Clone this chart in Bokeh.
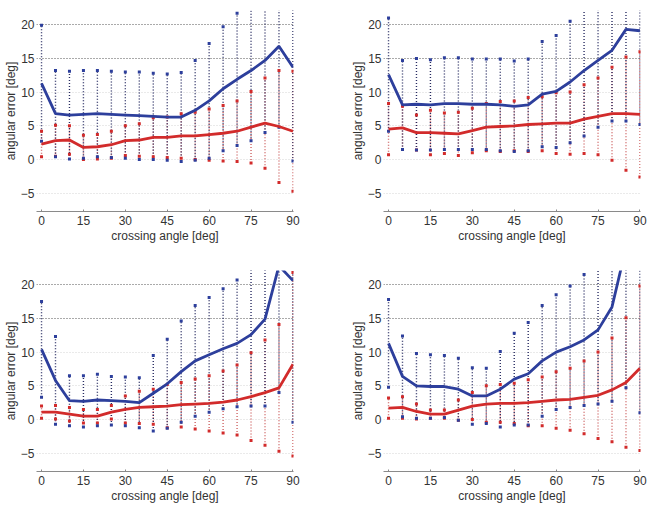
import numpy as np
from bokeh.plotting import figure
from bokeh.layouts import gridplot
from bokeh.models import FixedTicker, Grid, Range1d
from bokeh.embed import file_html
from bokeh.resources import INLINE

# crossing angle [deg]
angles = [0, 5, 10, 15, 20, 25, 30, 35, 40, 45, 50, 55, 60, 65, 70, 75, 80, 85, 90]
x_ticks = [0, 15, 30, 45, 60, 75, 90]
y_ticks = [-5, 0, 5, 10, 15, 20]
grid_dark = [15, 20]
grid_light = [-5, 0, 5, 10]

# panel 1 (top left)
blue_mean1 = [11.3, 6.8, 6.6, 6.7, 6.8, 6.7, 6.6, 6.5, 6.4, 6.3, 6.3, 7.3, 8.7, 10.5, 11.9, 13.2, 14.7, 16.8, 13.7]
blue_sd1 = [8.6, 6.4, 6.5, 6.5, 6.4, 6.4, 6.4, 6.5, 6.4, 6.4, 6.6, 7.4, 8.5, 9.2, 9.8, 10.4, 10.7, 12.0, 13.9]
red_mean1 = [2.3, 2.8, 2.9, 1.8, 1.9, 2.2, 2.8, 2.9, 3.3, 3.3, 3.5, 3.5, 3.7, 3.9, 4.2, 4.8, 5.4, 4.9, 4.2]
red_sd1 = [1.9, 2.3, 2.1, 1.8, 1.8, 2.0, 2.2, 2.4, 2.9, 3.0, 3.3, 3.5, 3.8, 4.1, 4.5, 5.3, 6.7, 8.3, 8.9]

# panel 2 (top right)
blue_mean2 = [12.6, 8.1, 8.2, 8.1, 8.3, 8.3, 8.2, 8.2, 8.1, 7.9, 8.1, 9.7, 10.1, 11.5, 13.2, 14.7, 16.2, 19.3, 19.1]
blue_sd2 = [8.4, 6.6, 6.8, 6.7, 6.8, 6.8, 6.7, 6.7, 6.8, 6.7, 6.8, 7.8, 8.3, 9.0, 9.7, 9.9, 10.5, 13.6, 13.9]
red_mean2 = [4.5, 4.7, 4.0, 4.0, 3.9, 3.8, 4.3, 4.8, 4.9, 5.0, 5.2, 5.3, 5.4, 5.4, 6.0, 6.4, 6.8, 6.8, 6.7]
red_sd2 = [3.8, 3.2, 2.6, 3.3, 3.0, 3.2, 3.3, 3.5, 3.7, 3.7, 4.0, 4.0, 4.5, 4.6, 5.1, 5.7, 6.9, 8.4, 9.3]

# panel 3 (bottom left)
blue_mean3 = [10.4, 5.8, 2.8, 2.7, 2.9, 2.8, 2.7, 2.5, 3.9, 5.3, 7.1, 8.7, 9.6, 10.5, 11.3, 12.6, 14.9, 22.8, 20.6]
blue_sd3 = [7.1, 6.5, 3.7, 3.8, 3.8, 3.6, 3.6, 3.7, 5.6, 6.6, 7.5, 8.2, 8.5, 8.9, 9.4, 10.6, 12.9, 18.8, 21.0]
red_mean3 = [1.1, 1.1, 0.8, 0.5, 0.5, 1.1, 1.5, 1.8, 1.9, 2.0, 2.2, 2.3, 2.4, 2.6, 2.9, 3.4, 4.0, 4.7, 8.2]
red_sd3 = [0.9, 1.0, 1.0, 1.0, 1.0, 1.0, 2.0, 2.4, 2.6, 3.2, 3.3, 3.7, 4.1, 4.6, 5.2, 6.5, 7.8, 9.4, 13.6]

# panel 4 (bottom right)
blue_mean4 = [11.3, 6.4, 5.0, 4.9, 4.9, 4.5, 3.5, 3.5, 4.5, 6.0, 6.8, 8.7, 10.0, 10.8, 11.8, 13.3, 16.7, 25.5, 30.0]
blue_sd4 = [6.5, 6.0, 4.8, 4.7, 4.6, 4.6, 4.2, 4.1, 5.6, 6.8, 7.6, 8.2, 8.5, 9.0, 9.7, 11.0, 14.0, 20.8, 29.0]
red_mean4 = [1.7, 1.8, 1.2, 0.8, 0.8, 1.4, 2.0, 2.3, 2.4, 2.4, 2.5, 2.7, 2.9, 3.0, 3.3, 3.6, 4.4, 5.5, 7.6]
red_sd4 = [1.5, 1.6, 1.1, 0.6, 0.6, 1.5, 2.0, 2.7, 2.8, 3.0, 3.4, 3.6, 4.2, 4.6, 5.4, 6.4, 7.7, 9.6, 12.2]

BLUE = "#2d3f9c"
RED = "#d22b2b"
BLUE_BAR = "#1b2058"
RED_BAR = "#c44646"
FONT = "Liberation Sans"


def make_panel(bm, bs, rm, rs, width, height, mb_l, mb_r, mb_t, mb_b):
    p = figure(width=width, height=height, output_backend="svg", toolbar_location=None,
               x_range=Range1d(-1.8, 90.2), y_range=Range1d(-7.7, 22.1),
               min_border_left=mb_l, min_border_right=mb_r,
               min_border_top=mb_t, min_border_bottom=mb_b)
    p.outline_line_color = None
    p.xgrid.visible = False
    p.ygrid.visible = False
    p.add_layout(Grid(dimension=1, ticker=FixedTicker(ticks=grid_light),
                      grid_line_color="#d4d4d4", grid_line_dash="1 2", grid_line_width=1))
    p.add_layout(Grid(dimension=1, ticker=FixedTicker(ticks=grid_dark),
                      grid_line_color="#555555", grid_line_dash="1 2", grid_line_width=1))

    x = np.array(angles, dtype=float)
    bm = np.array(bm); bs = np.array(bs); rm = np.array(rm); rs = np.array(rs)

    # red error bars
    p.segment(x0=x, y0=rm - rs, x1=x, y1=rm + rs, line_color=RED_BAR, line_dash="1 2",
              line_width=1.4, line_alpha=0.85)
    # blue error bars
    p.segment(x0=x, y0=bm - bs, x1=x, y1=bm + bs, line_color=BLUE_BAR, line_dash="1 2",
              line_width=1.4, line_alpha=0.95)
    p.scatter(np.concatenate([x, x]), np.concatenate([rm - rs, rm + rs]), marker="square",
              size=3, fill_color=RED, line_color=None)
    p.scatter(np.concatenate([x, x]), np.concatenate([bm - bs, bm + bs]), marker="square",
              size=3, fill_color=BLUE, line_color=None)

    p.line(x, bm, line_color=BLUE, line_width=2.8)
    p.line(x, rm, line_color=RED, line_width=2.8)

    p.xaxis.ticker = FixedTicker(ticks=x_ticks)
    p.yaxis.ticker = FixedTicker(ticks=y_ticks)
    p.xaxis.axis_label = "crossing angle [deg]"
    p.yaxis.axis_label = "angular error [deg]"
    for ax in (p.xaxis, p.yaxis):
        ax.axis_label_text_font = FONT
        ax.axis_label_text_font_size = "12px"
        ax.axis_label_text_font_style = "normal"
        ax.axis_label_text_color = "#333333"
        ax.major_label_text_font = FONT
        ax.major_label_text_font_size = "12px"
        ax.major_label_text_color = "#333333"
        ax.minor_tick_line_color = None
        ax.major_tick_out = 0
    p.yaxis.major_tick_line_color = None
    p.yaxis.major_tick_in = 0
    p.yaxis.axis_line_color = None
    p.yaxis.major_label_standoff = 2
    p.yaxis.axis_label_standoff = 0
    p.xaxis.axis_line_color = "#8a8a8a"
    p.xaxis.major_tick_line_color = "#8a8a8a"
    p.xaxis.major_tick_in = 2
    p.xaxis.major_label_standoff = 4
    p.xaxis.axis_label_standoff = 1
    return p


p1 = make_panel(blue_mean1, blue_sd1, red_mean1, red_sd1, 327, 250, 35, 34, 10, 39)
p2 = make_panel(blue_mean2, blue_sd2, red_mean2, red_sd2, 327, 250, 56, 14, 10, 39)
p3 = make_panel(blue_mean3, blue_sd3, red_mean3, red_sd3, 327, 255, 35, 34, 20, 34)
p4 = make_panel(blue_mean4, blue_sd4, red_mean4, red_sd4, 327, 255, 56, 14, 20, 34)

layout = gridplot([[p1, p2], [p3, p4]], toolbar_location=None)

open("out.html", "w").write(file_html(layout, INLINE))
